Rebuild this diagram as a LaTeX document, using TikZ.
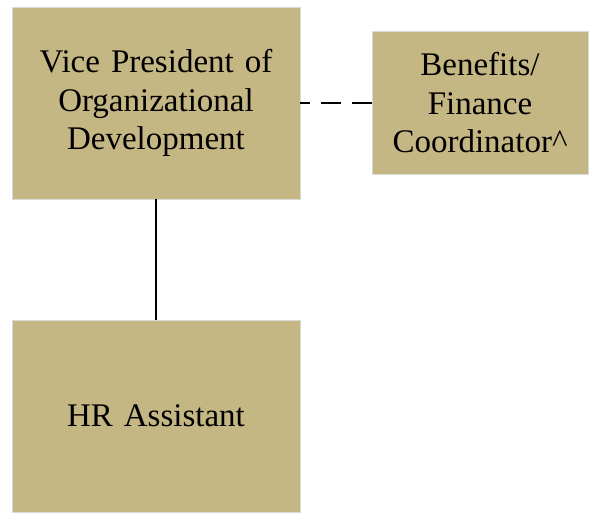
\documentclass[tikz,border=0pt]{standalone}
\usepackage{fontspec}
\setmainfont{Liberation Serif}
\usepackage{tikz}
\usetikzlibrary{shapes,arrows}
\definecolor{tan}{HTML}{C5B783}
\tikzstyle{block} = [rectangle, draw=black!15, line width=0.8pt, fill=tan, text width=270pt, align=center, minimum width=288pt, minimum height=192pt, inner sep=0pt, font=\fontsize{33}{38.5}\selectfont]
\tikzstyle{smallblock} = [block, text width=205pt, minimum width=216pt, minimum height=143pt]
\tikzstyle{line} = [draw, line width=2pt]
\tikzstyle{dashline} = [line, dash pattern=on 20pt off 11pt]

\begin{document}
\begin{tikzpicture}[x=1pt, y=1pt, node distance = 313pt, auto]
    \useasboundingbox (0,0) rectangle (595,-515);
    % Place nodes
    \node [block] at (156,-103) (vp) {Vice President of\\Organizational\\Development};
    \node [block, below of=vp] (hr) {HR Assistant};
    \node [smallblock, right of=vp, node distance=324pt] (ben) {Benefits/\\Finance\\Coordinator\^{}};
    % Draw edges
    \path [line] (vp) -- (hr);
    \path [dashline] (ben) -- (vp);
\end{tikzpicture}
\end{document}
